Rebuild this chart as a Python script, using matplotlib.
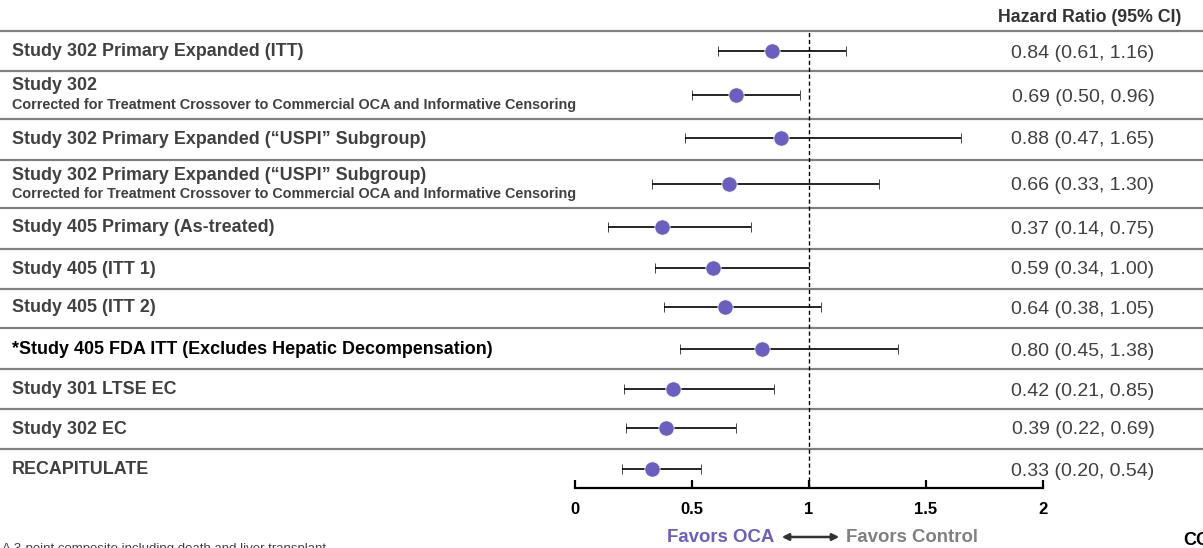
import matplotlib.pyplot as plt
from matplotlib.patches import FancyArrowPatch

plt.rcParams['font.family'] = ['Liberation Sans', 'DejaVu Sans']

# Dati
labels = [
    "Study 302 Primary Expanded (ITT)",
    "Study 302",
    "Study 302 Primary Expanded (\u201cUSPI\u201d Subgroup)",
    "Study 302 Primary Expanded (\u201cUSPI\u201d Subgroup)",
    "Study 405 Primary (As-treated)",
    "Study 405 (ITT 1)",
    "Study 405 (ITT 2)",
    "*Study 405 FDA ITT (Excludes Hepatic Decompensation)",
    "Study 301 LTSE EC",
    "Study 302 EC",
    "RECAPITULATE",
]
subtitles = {1: "Corrected for Treatment Crossover to Commercial OCA and Informative Censoring",
             3: "Corrected for Treatment Crossover to Commercial OCA and Informative Censoring"}
hr = [0.84, 0.69, 0.88, 0.66, 0.37, 0.59, 0.64, 0.80, 0.42, 0.39, 0.33]
ci_low = [0.61, 0.50, 0.47, 0.33, 0.14, 0.34, 0.38, 0.45, 0.21, 0.22, 0.20]
ci_high = [1.16, 0.96, 1.65, 1.30, 0.75, 1.00, 1.05, 1.38, 0.85, 0.69, 0.54]
xticks = [0, 0.5, 1, 1.5, 2]

# Layout (pixel)
W, H = 1203, 548
row_y = [51, 95, 138, 184, 227, 268, 307, 349, 389, 428, 469]
sep_y = [31, 71, 119, 160, 208, 249, 289, 328, 369, 409, 449]
ax_top, ax_bot = 31, 488
x0, x2 = 575, 1043

purple = '#6a5fc1'
dark = '#404040'
gray = '#808080'

fig = plt.figure(figsize=(W / 100, H / 100), dpi=100)

# asse di sfondo in pixel
bg = fig.add_axes([0, 0, 1, 1])
bg.set_xlim(0, W)
bg.set_ylim(H, 0)
bg.axis('off')

for y in sep_y:
    bg.plot([0, W], [y, y], color=gray, lw=1.6)

for i, lab in enumerate(labels):
    col = 'black' if lab.startswith('*') else dark
    if i in subtitles:
        bg.text(12, row_y[i] - 9, lab, fontsize=12.9, fontweight='bold', color=col, va='center')
        bg.text(12, row_y[i] + 10, subtitles[i], fontsize=10.4, fontweight='bold', color=col, va='center')
    else:
        bg.text(12, row_y[i] + 1, lab, fontsize=12.9, fontweight='bold', color=col, va='center')
    bg.text(1083, row_y[i] + 2, f"{hr[i]:.2f} ({ci_low[i]:.2f}, {ci_high[i]:.2f})",
            fontsize=14, color=dark, ha='center', va='center')

bg.text(1090, 17, "Hazard Ratio (95% CI)", fontsize=12.8, fontweight='bold', color='#333333',
        ha='center', va='center')

bg.text(774, 537, "Favors OCA", fontsize=13.4, fontweight='bold', color=purple, ha='right', va='center')
bg.text(846, 537, "Favors Control", fontsize=13.4, fontweight='bold', color=gray, ha='left', va='center')
bg.add_patch(FancyArrowPatch((779, 537), (842, 537), arrowstyle='<|-|>', mutation_scale=10,
                             color='#333333', lw=1.8))

bg.text(2, 543, "A 3-point composite including death and liver transplant", fontsize=9.5,
        color=dark, ha='left', va='top')
bg.text(1183, 532, "CO", fontsize=13, fontweight='bold', color='black', ha='left', va='top')

# asse forest
ax = fig.add_axes([x0 / W, 1 - ax_bot / H, (x2 - x0) / W, (ax_bot - ax_top) / H])
ax.patch.set_alpha(0)
ax.set_xlim(0, 2)
ax.set_ylim(ax_bot, ax_top)
for s in ['top', 'left', 'right']:
    ax.spines[s].set_visible(False)
ax.spines['bottom'].set_linewidth(1.6)
ax.set_yticks([])
ax.set_xticks(xticks)
ax.set_xticklabels(['0', '0.5', '1', '1.5', '2'], fontweight='bold', fontsize=12)
ax.tick_params(axis='x', direction='in', length=6, width=1.6, pad=10)

ax.axvline(1, color='black', lw=1, ls=(0, (3, 2)))

xerr = [[h - l for h, l in zip(hr, ci_low)], [u - h for h, u in zip(hr, ci_high)]]
ax.errorbar(hr, row_y, xerr=xerr, fmt='o', color=purple, ms=11, mec='white', mew=0.5,
            ecolor='black', elinewidth=1.2, capsize=3.5, capthick=1.2)

fig.savefig('out.png', dpi=100)
